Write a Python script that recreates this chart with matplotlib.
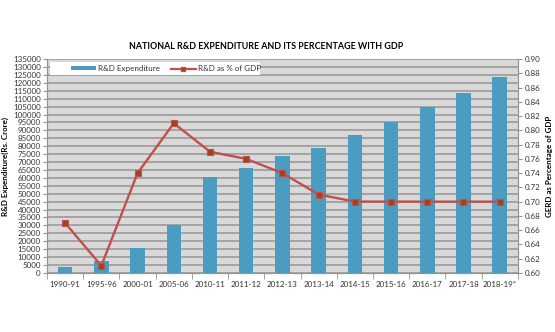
import numpy as np
import matplotlib.pyplot as plt
from matplotlib.lines import Line2D
from matplotlib.patches import Patch, Rectangle

plt.rcParams['font.family'] = ['Lato', 'DejaVu Sans']

years = ['1990-91', '1995-96', '2000-01', '2005-06', '2010-11', '2011-12', '2012-13',
         '2013-14', '2014-15', '2015-16', '2016-17', '2017-18', '2018-19*']
expenditure = [3900, 7500, 16000, 30000, 60300, 66000, 73800, 79100, 87300, 95300,
               104800, 113600, 123400]
pct_gdp = [0.67, 0.61, 0.74, 0.81, 0.77, 0.76, 0.74, 0.71, 0.70, 0.70, 0.70, 0.70, 0.70]

bar_color = '#4A9CC0'
line_color = '#C0504D'
grid_color = '#959595'
text_color = '#333333'
fs = 5.8

fig = plt.figure(figsize=(5.55, 3.32), dpi=100)
ax = fig.add_axes([0.0847, 0.178, 0.8483, 0.644])
ax.set_facecolor('#D9D9D9')

x = np.arange(len(years))
ax.bar(x, expenditure, width=0.4, color=bar_color, zorder=2)
ax.set_xlim(-0.5, len(years) - 0.5)
ax.set_ylim(0, 135000)
ax.set_yticks(np.arange(0, 135001, 5000))
ax.set_yticklabels([str(v) for v in range(0, 135001, 5000)], fontsize=fs, color=text_color)
ax.yaxis.grid(True, color=grid_color, linewidth=1.1, zorder=1)
ax.set_axisbelow(True)

# category labels centred, tick marks between categories
ax.set_xticks(x)
ax.set_xticklabels(years, fontsize=fs, color=text_color)
ax.tick_params(axis='x', length=0, pad=6)
ax.set_xticks(np.arange(-0.5, len(years), 1), minor=True)
ax.tick_params(axis='x', which='minor', length=4, color=grid_color)
ax.tick_params(axis='y', length=3, color=grid_color, pad=1.5)

ax.spines['top'].set_visible(False)
for s in ['left', 'bottom', 'right']:
    ax.spines[s].set_color(grid_color)

ax.set_ylabel('R&D Expenditure(Rs. Crore)', fontsize=fs, fontweight='bold', labelpad=3)

ax2 = ax.twinx()
ax2.plot(x, pct_gdp, color=line_color, linewidth=1.7, marker='s', markersize=5,
         markerfacecolor='#A0431F', markeredgecolor=line_color, markeredgewidth=0.8, zorder=3)
ax2.set_ylim(0.60, 0.90)
ax2.set_yticks(np.arange(0.60, 0.9001, 0.02))
ax2.set_yticklabels([f'{v:.2f}' for v in np.arange(0.60, 0.9001, 0.02)], fontsize=fs,
                    color=text_color)
ax2.tick_params(axis='y', length=3, color=grid_color, pad=2)
ax2.spines['top'].set_visible(False)
for s in ['left', 'bottom', 'right']:
    ax2.spines[s].set_color(grid_color)
ax2.set_ylabel('GERD as Percentage of GDP', fontsize=fs, fontweight='bold', labelpad=4)

# white legend panel like the Excel original
ax2.add_patch(Rectangle((0.0064, 0.925), 0.446, 0.061, transform=ax2.transAxes,
                        facecolor='white', edgecolor='none', zorder=4))
handles = [Patch(facecolor=bar_color, label='R&D Expenditure'),
           Line2D([0], [0], color=line_color, linewidth=1.6, marker='s', markersize=3.5,
                  markerfacecolor='#A0431F', markeredgecolor=line_color,
                  label='R&D as % of GDP')]
leg = ax2.legend(handles=handles, loc='center left', bbox_to_anchor=(0.052, 0.955), ncol=2,
                 fontsize=fs, frameon=False, handlelength=3.0, handleheight=0.35,
                 handletextpad=0.3, columnspacing=1.4, borderpad=0, borderaxespad=0)
leg.set_zorder(5)
for t in leg.get_texts():
    t.set_color(text_color)

fig.text(0.48, 0.86, 'NATIONAL R&D EXPENDITURE AND ITS PERCENTAGE WITH GDP', ha='center',
         va='center', fontsize=6.4, fontweight='bold')

fig.savefig('out.png', dpi=100)
